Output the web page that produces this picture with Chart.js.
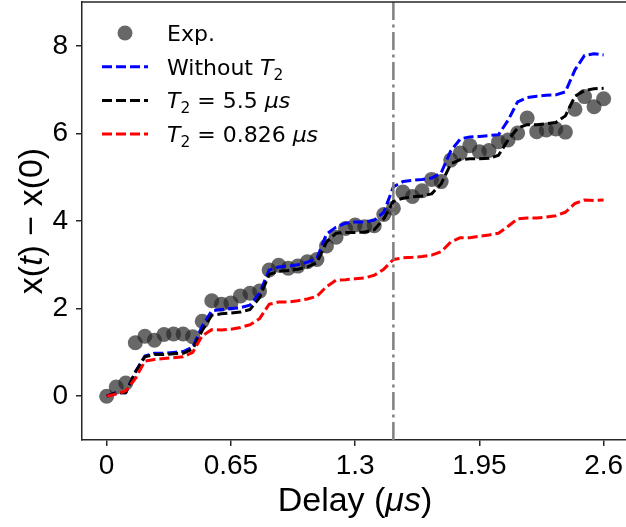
<!DOCTYPE html>
<html>
<head>
<meta charset="utf-8">
<script src="https://cdn.jsdelivr.net/npm/chart.js@4.4.0/dist/chart.umd.min.js"></script>
<style>
  html, body { margin: 0; padding: 0; background: #fff; }
</style>
</head>
<body>
<canvas id="chart" width="626" height="527"></canvas>
<script>
// delay in microseconds
const delays = [
  0, 0.05, 0.1, 0.15, 0.2, 0.25, 0.3, 0.35, 0.4, 0.45,
  0.5, 0.55, 0.6, 0.65, 0.7, 0.75, 0.8, 0.85, 0.9, 0.95,
  1.0, 1.05, 1.1, 1.15, 1.2, 1.25, 1.3, 1.35, 1.4, 1.45,
  1.5, 1.55, 1.6, 1.65, 1.7, 1.75, 1.8, 1.85, 1.9, 1.95,
  2.0, 2.05, 2.1, 2.15, 2.2, 2.25, 2.3, 2.35, 2.4, 2.45,
  2.5, 2.55, 2.6
];

// measured displacement
const expValues = [
  0, 0.21, 0.30, 1.22, 1.37, 1.28, 1.41, 1.42, 1.42, 1.36,
  1.71, 2.18, 2.10, 2.13, 2.29, 2.35, 2.40, 2.88, 2.99, 2.92,
  2.97, 3.07, 3.12, 3.43, 3.63, 3.83, 3.91, 3.87, 3.89, 4.15,
  4.29, 4.66, 4.56, 4.69, 4.95, 4.90, 5.39, 5.55, 5.72, 5.58,
  5.61, 5.81, 5.85, 6.01, 6.35, 6.04, 6.08, 6.10, 6.03, 6.55,
  6.84, 6.61, 6.79
];

// simulation, no dephasing
const noT2Values = [
  0, 0.08, 0.08, 0.55, 0.92, 0.98, 0.98, 1.00, 1.02, 1.12,
  1.60, 1.95, 1.98, 2.00, 2.02, 2.08, 2.35, 2.88, 2.95, 2.97,
  3.00, 3.06, 3.15, 3.70, 3.86, 3.95, 3.98, 3.98, 4.02, 4.20,
  4.78, 4.90, 4.93, 4.95, 4.98, 5.10, 5.60, 5.87, 5.92, 5.93,
  5.95, 5.97, 6.30, 6.72, 6.82, 6.85, 6.87, 6.88, 6.95, 7.45,
  7.78, 7.82, 7.79
];

// simulation, T2 = 5.5 us
const t2LongValues = [
  0, 0.08, 0.08, 0.55, 0.90, 0.95, 0.95, 0.97, 0.98, 1.08,
  1.50, 1.85, 1.88, 1.90, 1.92, 1.98, 2.25, 2.78, 2.85, 2.87,
  2.90, 2.95, 3.05, 3.52, 3.72, 3.74, 3.74, 3.75, 3.80, 4.05,
  4.45, 4.52, 4.55, 4.57, 4.62, 4.85, 5.30, 5.40, 5.42, 5.42,
  5.43, 5.50, 5.85, 6.12, 6.20, 6.20, 6.22, 6.25, 6.40, 6.85,
  6.98, 7.02, 7.03
];

// simulation, T2 = 0.826 us
const t2ShortValues = [
  0, 0.05, 0.12, 0.40, 0.80, 0.84, 0.86, 0.88, 0.90, 1.00,
  1.38, 1.52, 1.51, 1.53, 1.57, 1.63, 1.77, 2.10, 2.15, 2.15,
  2.18, 2.22, 2.28, 2.50, 2.65, 2.66, 2.68, 2.70, 2.76, 2.90,
  3.12, 3.16, 3.17, 3.19, 3.22, 3.30, 3.52, 3.62, 3.62, 3.65,
  3.68, 3.72, 3.88, 4.05, 4.07, 4.07, 4.09, 4.12, 4.20, 4.40,
  4.48, 4.47, 4.48
];

const xTicks = [0, 0.65, 1.3, 1.95, 2.6];
const yTicks = [0, 2, 4, 6, 8];
const xRange = [-0.129, 2.717];
const yRange = [-1, 9];
const markerDelay = 1.5;

const axisColor = '#262626';
const tickFont = { family: 'Liberation Sans', size: 28 };

function series(values) {
  return delays.map((d, i) => ({ x: d, y: values[i] }));
}

function dashed(label, parts, color, values, order) {
  return {
    label: label,
    legendParts: parts,
    data: series(values),
    showLine: true,
    borderColor: color,
    backgroundColor: color,
    borderWidth: 3,
    borderDash: [10, 4],
    borderCapStyle: 'butt',
    borderJoinStyle: 'round',
    pointRadius: 0,
    tension: 0,
    order: order
  };
}

const datasets = [
  {
    label: 'Exp.',
    legendParts: [{ text: 'Exp.' }],
    data: series(expValues),
    pointRadius: 7.5,
    pointHoverRadius: 7.5,
    pointBorderWidth: 0,
    backgroundColor: 'rgba(40,40,40,0.7)',
    borderColor: 'rgba(40,40,40,0.7)',
    order: 4
  },
  dashed('Without T2', [{ text: 'Without ' }, { text: 'T', italic: true }, { text: '2', sub: true }],
    '#0000ff', noT2Values, 3),
  dashed('T2 = 5.5 us', [{ text: 'T', italic: true }, { text: '2', sub: true }, { text: ' = 5.5 ' }, { text: 'μs', italic: true }],
    '#000000', t2LongValues, 2),
  dashed('T2 = 0.826 us', [{ text: 'T', italic: true }, { text: '2', sub: true }, { text: ' = 0.826 ' }, { text: 'μs', italic: true }],
    '#ff0000', t2ShortValues, 1),
  {
    label: 'marker',
    data: [{ x: markerDelay, y: yRange[0] }, { x: markerDelay, y: yRange[1] }],
    showLine: true,
    borderColor: '#808080',
    borderWidth: 2.5,
    borderDash: [18, 4.5, 3, 4.5],
    borderCapStyle: 'butt',
    pointRadius: 0,
    order: 0
  }
];

function richWidth(ctx, parts, size, family) {
  let w = 0;
  parts.forEach(p => {
    ctx.font = (p.italic ? 'italic ' : '') + (p.sub ? size * 0.7 : size) + 'px ' + family;
    w += ctx.measureText(p.text).width;
  });
  return w;
}

function drawRich(ctx, parts, x, baseline, size, family) {
  let cx = x;
  parts.forEach(p => {
    ctx.font = (p.italic ? 'italic ' : '') + (p.sub ? size * 0.7 : size) + 'px ' + family;
    ctx.fillText(p.text, cx, baseline + (p.sub ? size * 0.22 : 0));
    cx += ctx.measureText(p.text).width;
  });
}

// frame top edge, legend and axis titles with italics/subscripts
const decorations = {
  id: 'decorations',
  afterDraw(chart) {
    const ctx = chart.ctx;
    const area = chart.chartArea;
    ctx.save();

    ctx.strokeStyle = axisColor;
    ctx.lineWidth = 1.5;
    ctx.beginPath();
    ctx.moveTo(area.left, area.top);
    ctx.lineTo(area.right, area.top);
    ctx.stroke();

    // legend
    const legendFamily = '"DejaVu Sans"';
    const legendSize = 22;
    let rowY = 33;
    ctx.fillStyle = '#000';
    ctx.textAlign = 'left';
    ctx.textBaseline = 'alphabetic';
    chart.data.datasets.filter(ds => ds.legendParts).forEach(ds => {
      if (ds.showLine) {
        ctx.strokeStyle = ds.borderColor;
        ctx.lineWidth = ds.borderWidth;
        ctx.setLineDash(ds.borderDash);
        ctx.beginPath();
        ctx.moveTo(102, rowY);
        ctx.lineTo(148, rowY);
        ctx.stroke();
        ctx.setLineDash([]);
      } else {
        ctx.fillStyle = ds.backgroundColor;
        ctx.beginPath();
        ctx.arc(125, rowY, ds.pointRadius, 0, Math.PI * 2);
        ctx.fill();
      }
      ctx.fillStyle = '#000';
      drawRich(ctx, ds.legendParts, 167, rowY + 8, legendSize, legendFamily);
      rowY += 33.7;
    });

    // axis titles
    const titleFamily = '"Liberation Sans"';
    const titleSize = 34;
    const xTitle = [{ text: 'Delay (' }, { text: 'μs', italic: true }, { text: ')' }];
    const xw = richWidth(ctx, xTitle, titleSize, titleFamily);
    drawRich(ctx, xTitle, 355 - xw / 2, 511, titleSize, titleFamily);

    const yTitle = [{ text: 'x(' }, { text: 't', italic: true }, { text: ') − x(0)' }];
    const yw = richWidth(ctx, yTitle, titleSize, titleFamily);
    ctx.translate(30, (area.top + area.bottom) / 2);
    ctx.rotate(-Math.PI / 2);
    drawRich(ctx, yTitle, -yw / 2, 12, titleSize, titleFamily);

    ctx.restore();
  }
};

new Chart(document.getElementById('chart'), {
  type: 'scatter',
  data: { datasets: datasets },
  plugins: [decorations],
  options: {
    responsive: false,
    animation: false,
    layout: { autoPadding: false, padding: { top: 2, left: 0, right: 0, bottom: 0 } },
    plugins: {
      legend: { display: false },
      tooltip: { enabled: false }
    },
    scales: {
      x: {
        type: 'linear',
        min: xRange[0],
        max: xRange[1],
        afterBuildTicks: s => { s.ticks = xTicks.map(v => ({ value: v })); },
        afterFit: s => { s.height = 87; s.paddingLeft = 0; s.paddingRight = 0; },
        ticks: {
          callback: v => String(v),
          font: tickFont,
          color: '#000',
          padding: 3,
          maxRotation: 0,
          autoSkip: false
        },
        grid: { drawOnChartArea: false, drawTicks: true, tickLength: 6, color: axisColor, lineWidth: 1.5 },
        border: { display: true, color: axisColor, width: 1.5 }
      },
      y: {
        type: 'linear',
        min: yRange[0],
        max: yRange[1],
        afterBuildTicks: s => { s.ticks = yTicks.map(v => ({ value: v })); },
        afterFit: s => { s.width = 82; s.paddingTop = 0; s.paddingBottom = 0; },
        ticks: {
          callback: v => String(v),
          font: tickFont,
          color: '#000',
          padding: 8,
          autoSkip: false
        },
        grid: { drawOnChartArea: false, drawTicks: true, tickLength: 6, color: axisColor, lineWidth: 1.5 },
        border: { display: true, color: axisColor, width: 1.5 }
      }
    }
  }
});
</script>
</body>
</html>
